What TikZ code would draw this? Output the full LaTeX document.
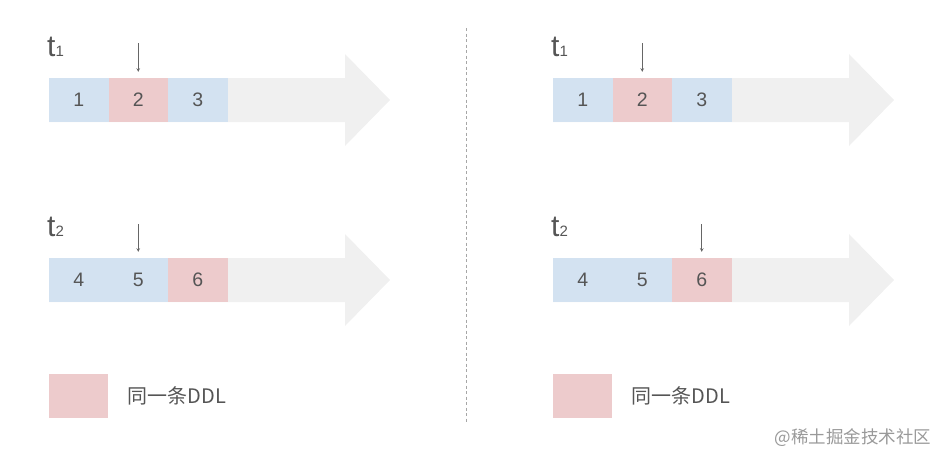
\documentclass[tikz,border=0pt]{standalone}
\usepackage{fontspec}
\setmainfont{Liberation Sans}
\newfontfamily\cjk{Noto Sans CJK SC}
\usetikzlibrary{positioning}

\definecolor{slotblue}{HTML}{D3E2F1}
\definecolor{slotred}{HTML}{EDCBCC}
\definecolor{bandgray}{HTML}{F0F0F0}
\definecolor{txtgray}{HTML}{555555}
\definecolor{markgray}{HTML}{666666}

\tikzset{
  slot/.style={minimum width=59.5, minimum height=44, inner sep=0,
    text=txtgray, font=\fontsize{19.5}{20}\selectfont},
  blueslot/.style={slot, fill=slotblue},
  redslot/.style={slot, fill=slotred},
  band/.style={fill=bandgray},
  tlabel/.style={anchor=base west, inner sep=0, text=txtgray},
  pointer/.style={->, >=stealth, markgray, line width=0.6, shorten >=6},
  keytext/.style={inner sep=0, text=txtgray, font=\cjk\fontsize{20}{22}\selectfont}
}

\newcommand{\tsub}[1]{{\fontsize{30}{30}\selectfont t}{\fontsize{15}{15}\selectfont #1}}

\begin{document}
\begin{tikzpicture}[x=1pt,y=-1pt]
  \useasboundingbox (0,0) rectangle (940,458);

  % Left: pointer on 2, then on 5
  \begin{scope}[shift={(0,0)}]
    \fill[band] (49,78) -- (345,78) -- (345,54) -- (390,100) -- (345,146) -- (345,122) -- (49,122) -- cycle;
    \node[tlabel] (lt1) at (47,56.5) {\tsub{1}};
    \node[blueslot] (l1) at (78.75,100) {1};
    \node[redslot]  (l2) at (138.25,100) {2};
    \node[blueslot] (l3) at (197.75,100) {3};
    \coordinate (lp1) at (l2 |- 0,43);
    \draw[pointer] (lp1) -- (l2.north);

    \fill[band] (49,258) -- (345,258) -- (345,234) -- (390,280) -- (345,326) -- (345,302) -- (49,302) -- cycle;
    \node[tlabel] (lt2) at (47,236.5) {\tsub{2}};
    \node[blueslot] (l4) at (78.75,280) {4};
    \node[blueslot] (l5) at (138.25,280) {5};
    \node[redslot]  (l6) at (197.75,280) {6};
    \coordinate (lp2) at (l5 |- 0,224);
    \draw[pointer] (lp2) -- (l5.north);

    \node[redslot] (lkey) at (78.5,396) {};
    \node[keytext, right=19 of lkey] (lkeytext) {同一条DDL};
  \end{scope}

  % Right: pointer on 2, then on 6
  \begin{scope}[shift={(504,0)}]
    \fill[band] (49,78) -- (345,78) -- (345,54) -- (390,100) -- (345,146) -- (345,122) -- (49,122) -- cycle;
    \node[tlabel] (rt1) at (47,56.5) {\tsub{1}};
    \node[blueslot] (r1) at (78.75,100) {1};
    \node[redslot]  (r2) at (138.25,100) {2};
    \node[blueslot] (r3) at (197.75,100) {3};
    \coordinate (rp1) at (r2 |- 0,43);
    \draw[pointer] (rp1) -- (r2.north);

    \fill[band] (49,258) -- (345,258) -- (345,234) -- (390,280) -- (345,326) -- (345,302) -- (49,302) -- cycle;
    \node[tlabel] (rt2) at (47,236.5) {\tsub{2}};
    \node[blueslot] (r4) at (78.75,280) {4};
    \node[blueslot] (r5) at (138.25,280) {5};
    \node[redslot]  (r6) at (197.75,280) {6};
    \coordinate (rp2) at (r6 |- 0,224);
    \draw[pointer] (rp2) -- (r6.north);

    \node[redslot] (rkey) at (78.5,396) {};
    \node[keytext, right=19 of rkey] (rkeytext) {同一条DDL};
  \end{scope}

  % separator
  \draw[black!35, line width=0.8, dash pattern=on 3 off 2.5] (466,28) -- (466,423);

  \node[text=black!40, inner sep=0, font=\cjk\fontsize{17.5}{20}\selectfont] (mark) at (853,438) {@稀土掘金技术社区};
\end{tikzpicture}
\end{document}
